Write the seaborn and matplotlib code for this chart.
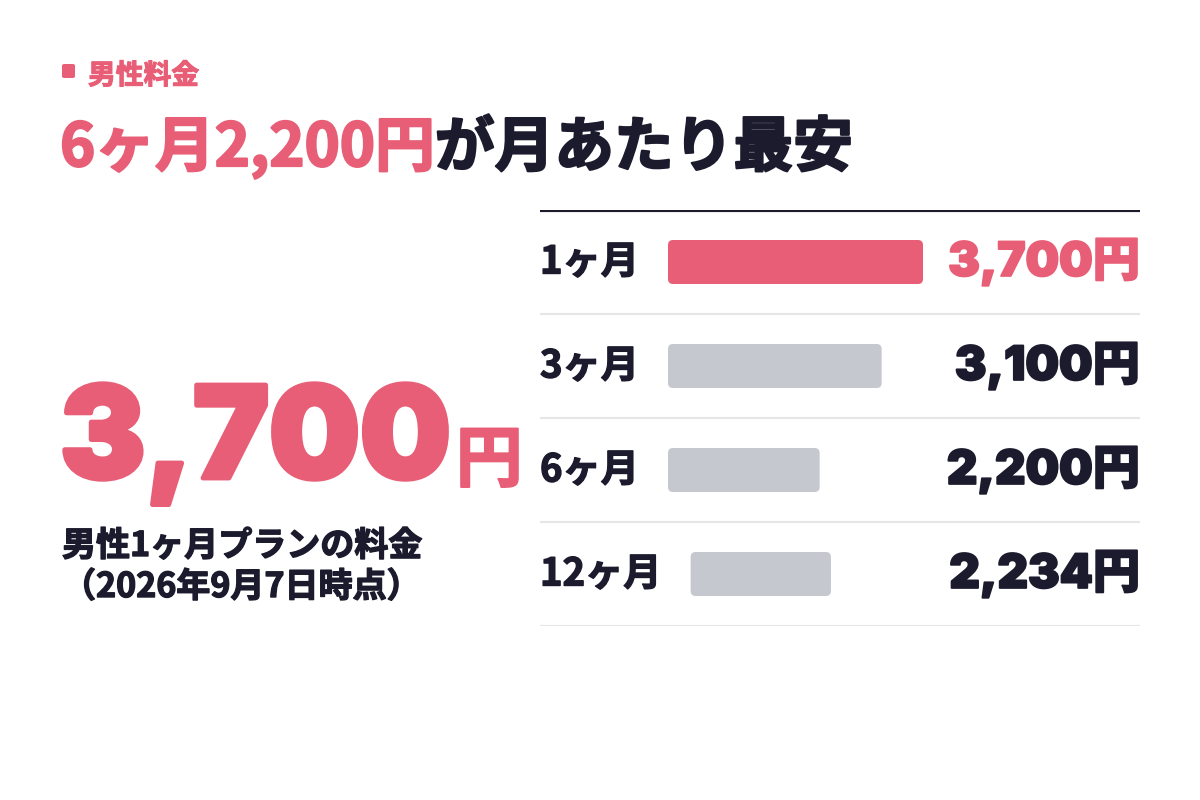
import numpy as np
import pandas as pd
import matplotlib
matplotlib.use("Agg")
import matplotlib.pyplot as plt
import matplotlib.patheffects as pe
import seaborn as sns
from matplotlib.patches import FancyBboxPatch

# data
plans = ["1ヶ月", "3ヶ月", "6ヶ月", "12ヶ月"]
prices = [3700, 3100, 2200, 2234]
price_labels = ["3,700円", "3,100円", "2,200円", "2,234円"]
highlight = "1ヶ月"
big_price = "3,700"

PINK = "#E85E76"
DARK = "#1C1B2E"
GRAY = "#C5C8CF"
LINE = "#E6E6E6"

sns.set_theme(style="white")
plt.rcParams["font.family"] = ["Noto Sans CJK JP", "DejaVu Sans"]
NUM_FONT = ["Inter", "Noto Sans CJK JP", "DejaVu Sans"]


def heavy(c, w=1.0):
    # fake a black weight by stroking the glyph outline
    return [pe.withStroke(linewidth=w, foreground=c)]


W, H = 1200, 800
fig = plt.figure(figsize=(12, 8), dpi=100)
fig.patch.set_facecolor("white")
renderer = fig.canvas.get_renderer()


def fx(x):
    return x / W


def fy(y):
    return 1 - y / H


# header
fig.patches.append(FancyBboxPatch((fx(62), fy(78)), fx(13), 14 / H,
                                  boxstyle="round,pad=0,rounding_size=0.002",
                                  transform=fig.transFigure, color=PINK, lw=0))
fig.text(fx(88), fy(84), "男性料金", fontsize=20, fontweight="bold", color=PINK,
         va="baseline", path_effects=heavy(PINK, 0.8))
t1 = fig.text(fx(60), fy(166), "6ヶ月2,200円", fontsize=43, fontweight="bold", color=PINK,
              va="baseline", path_effects=heavy(PINK, 1.6))
bb = t1.get_window_extent(renderer)
fig.text(bb.x1 / W, fy(166), "が月あたり最安", fontsize=43, fontweight="bold", color=DARK,
         va="baseline", path_effects=heavy(DARK, 1.6))

# big number
big = fig.text(fx(60), fy(478), big_price, fontsize=92, fontweight="black", color=PINK,
               va="baseline", family=NUM_FONT, path_effects=heavy(PINK, 3.5))
bb = big.get_window_extent(renderer)
fig.text(bb.x1 / W + fx(5), fy(481), "円", fontsize=48, fontweight="bold", color=PINK,
         va="baseline", path_effects=heavy(PINK, 1.5))
fig.text(fx(62), fy(556), "男性1ヶ月プランの料金", fontsize=24.5, fontweight="bold", color=DARK,
         va="baseline", path_effects=heavy(DARK, 1))
fig.text(fx(62), fy(597), "（2026年9月7日時点）", fontsize=24.5, fontweight="bold", color=DARK,
         va="baseline", path_effects=heavy(DARK, 1))

# bar table
left_px, right_px = 540, 1140
top_px, bot_px = 210, 626
bar0_px, bar_full_px = 668, 923
ax = fig.add_axes([fx(left_px), fy(bot_px), (right_px - left_px) / W, (bot_px - top_px) / H])
ax.set_facecolor("none")
upp = max(prices) / (bar_full_px - bar0_px)
ax.set_xlim(-(bar0_px - left_px) * upp, (right_px - bar0_px) * upp)

df = pd.DataFrame({"plan": plans, "price": prices})
colors = [PINK if p == highlight else GRAY for p in plans]
sns.barplot(data=df, y="plan", x="price", hue="plan", palette=colors, legend=False,
            width=44 / 104, ax=ax, saturation=1)
ax.set_ylim(len(plans) - 0.5, -0.5)

trans = ax.get_yaxis_transform()
label_ends = []
for i, (plan, lab) in enumerate(zip(plans, price_labels)):
    c = PINK if plan == highlight else DARK
    tl = ax.text(0, i, plan, transform=trans, fontsize=27.5, fontweight="bold", color=DARK,
                 va="center", ha="left", path_effects=heavy(DARK, 1))
    label_ends.append(ax.transData.inverted().transform(tl.get_window_extent(renderer))[1][0])
    ax.text(1, i, lab, transform=trans, fontsize=34, fontweight="black", color=c,
            va="center", ha="right", family=NUM_FONT, path_effects=heavy(c, 1.4))
    ax.axhline(i + 0.5, color=LINE, lw=1.5)
ax.axhline(-0.5, color=DARK, lw=3)

# rounded bars; the track shrinks when a row label is longer (flex layout)
gap = 29 * upp
track_end = max(prices)
row_px = (bot_px - top_px) / len(plans)
aspect = (1 / row_px) / upp
bars = sorted([p for p in ax.patches], key=lambda p: p.get_y())
for patch, lend in zip(bars, label_ends):
    start = max(0, lend + gap)
    w = patch.get_width() * (track_end - start) / track_end
    patch.set_visible(False)
    ax.add_patch(FancyBboxPatch((start, patch.get_y()), w, patch.get_height(),
                                boxstyle=f"round,pad=0,rounding_size={5 * upp}",
                                mutation_aspect=aspect, fc=patch.get_facecolor(), ec="none"))

ax.set_xlabel("")
ax.set_ylabel("")
ax.set_xticks([])
ax.set_yticks([])
sns.despine(ax=ax, left=True, bottom=True)

fig.savefig("out.png", dpi=100)
